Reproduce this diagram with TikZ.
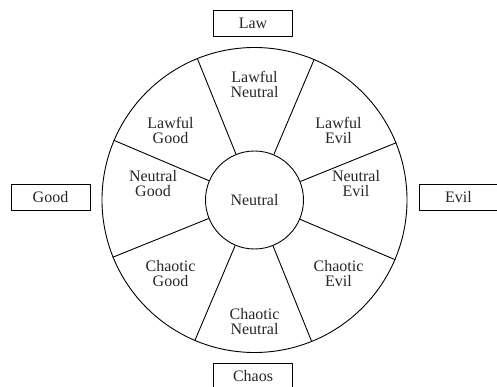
\documentclass[tikz,border=0pt]{standalone}
\usepackage{fontspec}
\setmainfont{Liberation Serif}
\begin{document}
\begin{tikzpicture}[x=1pt,y=-1pt,
  txt/.style={font=\fontsize{16}{15}\selectfont,text=black!85},
  ring/.style={circle,draw,line width=0.9pt,inner sep=0pt},
  lbl/.style={txt,align=center,inner sep=0pt},
  axisbox/.style={txt,draw,line width=0.8pt,minimum width=79pt,minimum height=26pt,inner sep=0pt},
  spoke/.style={line width=0.9pt}]
\useasboundingbox (0,0) rectangle (497,387);
\clip (0,0) rectangle (497,387);
\coordinate (c) at (254.5,200);
\node[ring,minimum size=305pt] (outer) at (c) {};
\node[ring,txt,minimum size=98pt] (inner) at (c) {Neutral};
\foreach \a in {22.5,67.5,...,337.5}
  \draw[spoke] (inner.\a) -- (outer.\a);
\node[lbl] (ln) at (254.5,84) {Lawful\\Neutral};
\node[lbl] (le) at (338.5,130) {Lawful\\Evil};
\node[lbl] (ne) at (356,184) {Neutral\\Evil};
\node[lbl] (ce) at (338.5,274) {Chaotic\\Evil};
\node[lbl] (cn) at (254.5,322) {Chaotic\\Neutral};
\node[lbl] (cg) at (170.5,274) {Chaotic\\Good};
\node[lbl] (ng) at (153,184) {Neutral\\Good};
\node[lbl] (lg) at (170.5,130) {Lawful\\Good};
\node[axisbox] (law) at (253,23) {Law};
\node[axisbox] (good) at (50.5,197.5) {Good};
\node[axisbox] (evil) at (458.5,197.5) {Evil};
\node[axisbox] (chaos) at (253,376) {Chaos};
\end{tikzpicture}
\end{document}
